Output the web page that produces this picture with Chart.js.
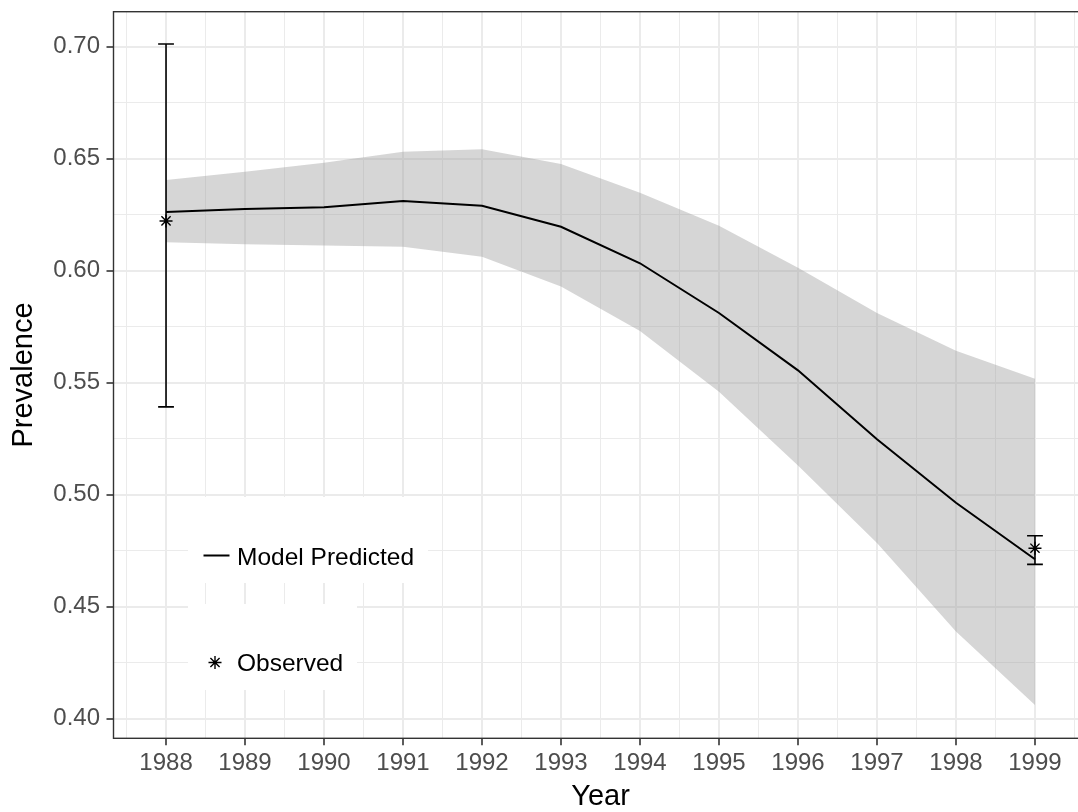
<!DOCTYPE html>
<html>
<head>
<meta charset="utf-8">
<script src="https://cdn.jsdelivr.net/npm/chart.js@4/dist/chart.umd.min.js"></script>
<style>
  html, body { margin: 0; padding: 0; overflow: hidden; background: #fff; width: 1078px; height: 812px; }
  #wrap { position: absolute; left: 0; top: 0; width: 1100px; height: 830px; }
</style>
</head>
<body>
<div id="wrap"><canvas id="c" width="1100" height="830"></canvas></div>
<script>
// Model predicted prevalence with its uncertainty band
const years     = [1988, 1989, 1990, 1991, 1992, 1993, 1994, 1995, 1996, 1997, 1998, 1999];
const predicted = [0.6262, 0.6275, 0.6283, 0.6311, 0.6290, 0.6196, 0.6033, 0.5811, 0.5555, 0.5247, 0.4964, 0.4712];
const upper     = [0.6405, 0.6442, 0.6482, 0.6531, 0.6542, 0.6476, 0.6348, 0.6200, 0.6013, 0.5811, 0.5642, 0.5517];
const lower     = [0.6127, 0.6118, 0.6112, 0.6107, 0.6062, 0.5929, 0.5731, 0.5460, 0.5130, 0.4784, 0.4389, 0.4061];

// Observed survey estimates with confidence intervals
const obsYears = [1988, 1999];
const observed = [0.6222, 0.4761];
const obsLow   = [0.5392, 0.4689];
const obsHigh  = [0.7012, 0.4817];

// Axis ticks
const yTicks = [0.40, 0.45, 0.50, 0.55, 0.60, 0.65, 0.70];
const xTicks = years;

const X_MIN = 1987.335, X_MAX = 1999.665;
const Y_MIN = 0.39125, Y_MAX = 0.7156;

const FONT = "'Liberation Sans', Arial, Helvetica, sans-serif";
Chart.defaults.font.family = FONT;

// major ticks plus the minor (half-step) grid positions inside the panel
const withMinor = (t, lo, hi) => {
  const out = [];
  const step = t[1] - t[0];
  out.push(t[0] - step / 2);
  t.forEach(v => { out.push(v); out.push(v + step / 2); });
  return out.filter(v => v >= lo && v <= hi);
};
const xGrid = withMinor(xTicks, X_MIN, X_MAX);
const yGrid = withMinor(yTicks, Y_MIN, Y_MAX);
const isMajorX = v => xTicks.some(t => Math.abs(t - v) < 1e-6);
const isMajorY = v => yTicks.some(t => Math.abs(t - v) < 1e-6);

const pts = (xs, ys) => xs.map((x, i) => ({ x: x, y: ys[i] }));

const panelPlugin = {
  id: 'panel',
  afterDatasetsDraw(chart) {
    const { ctx, scales: { x, y } } = chart;
    ctx.save();
    // error bars
    ctx.strokeStyle = '#000';
    ctx.lineWidth = 1.6;
    obsYears.forEach((yr, i) => {
      const px = x.getPixelForValue(yr);
      const lo = y.getPixelForValue(obsLow[i]);
      const hi = y.getPixelForValue(obsHigh[i]);
      const hw = x.getPixelForValue(yr + 0.1) - px;
      ctx.beginPath();
      ctx.moveTo(px, hi); ctx.lineTo(px, lo);
      ctx.moveTo(px - hw, hi); ctx.lineTo(px + hw, hi);
      ctx.moveTo(px - hw, lo); ctx.lineTo(px + hw, lo);
      ctx.stroke();
    });

    // legend keys on white backgrounds
    ctx.fillStyle = '#fff';
    ctx.fillRect(188, 497, 240, 86);
    ctx.fillRect(188, 604, 169, 86);

    ctx.strokeStyle = '#000';
    ctx.lineWidth = 2;
    ctx.beginPath();
    ctx.moveTo(203.5, 555.5); ctx.lineTo(229.5, 555.5);
    ctx.stroke();

    // asterisk key (plus and cross overlaid)
    const cx = 215, cy = 662.5, r = 6.5;
    ctx.lineWidth = 1.4;
    ctx.beginPath();
    ctx.moveTo(cx, cy - r); ctx.lineTo(cx, cy + r);
    ctx.moveTo(cx - r, cy); ctx.lineTo(cx + r, cy);
    const d = r * Math.SQRT1_2;
    ctx.moveTo(cx - d, cy - d); ctx.lineTo(cx + d, cy + d);
    ctx.moveTo(cx - d, cy + d); ctx.lineTo(cx + d, cy - d);
    ctx.stroke();

    ctx.fillStyle = '#000';
    ctx.font = '24.5px ' + FONT;
    ctx.textAlign = 'left';
    ctx.textBaseline = 'alphabetic';
    ctx.fillText('Model Predicted', 237, 564.5);
    ctx.fillText('Observed', 237, 671);
    ctx.restore();
  },
  afterDraw(chart) {
    const { ctx, chartArea: a } = chart;
    ctx.save();
    ctx.strokeStyle = '#333';
    ctx.lineWidth = 1.4;
    ctx.strokeRect(a.left, a.top, a.right - a.left, a.bottom - a.top);
    ctx.restore();
  }
};

new Chart(document.getElementById('c'), {
  type: 'line',
  data: {
    datasets: [
      {
        label: 'upper',
        data: pts(years, upper),
        borderWidth: 0,
        borderColor: 'rgba(0,0,0,0)',
        backgroundColor: 'rgba(153,153,153,0.4)',
        pointRadius: 0,
        fill: '+1',
        order: 3
      },
      {
        label: 'lower',
        data: pts(years, lower),
        borderWidth: 0,
        borderColor: 'rgba(0,0,0,0)',
        pointRadius: 0,
        fill: false,
        order: 3
      },
      {
        label: 'Model Predicted',
        data: pts(years, predicted),
        borderColor: '#000',
        borderWidth: 2,
        pointRadius: 0,
        fill: false,
        tension: 0,
        order: 2
      },
      {
        label: 'Observed',
        data: pts(obsYears, observed),
        showLine: false,
        pointStyle: 'star',
        pointRadius: 6.5,
        pointBorderColor: '#000',
        pointBorderWidth: 1.4,
        pointBackgroundColor: '#000',
        order: 1
      }
    ]
  },
  options: {
    responsive: false,
    animation: false,
    devicePixelRatio: 1,
    layout: { padding: { top: 11.7, right: 12.5, bottom: 0, left: 0 } },
    plugins: { legend: { display: false }, tooltip: { enabled: false } },
    scales: {
      x: {
        type: 'linear',
        min: X_MIN,
        max: X_MAX,
        afterBuildTicks: s => { s.ticks = xGrid.map(v => ({ value: v })); },
        afterFit: s => { s.height = 91.7; s.paddingLeft = 0; s.paddingRight = 0; },
        border: { display: false },
        grid: {
          color: '#ebebeb',
          lineWidth: c => isMajorX(c.tick.value) ? 2 : 1,
          tickColor: c => isMajorX(c.tick.value) ? '#333' : 'rgba(0,0,0,0)',
          tickWidth: 1.6,
          tickLength: 7
        },
        ticks: {
          autoSkip: false,
          maxRotation: 0,
          minRotation: 0,
          padding: 3.7,
          color: '#4d4d4d',
          font: { size: 24, family: FONT },
          callback: v => isMajorX(v) ? String(Math.round(v)) : ''
        },
        title: {
          display: true,
          text: 'Year',
          color: '#000',
          font: { size: 29, family: FONT, lineHeight: 1.2 },
          padding: { top: 0, bottom: 15.9 }
        }
      },
      y: {
        type: 'linear',
        min: Y_MIN,
        max: Y_MAX,
        afterBuildTicks: s => { s.ticks = yGrid.map(v => ({ value: v })); },
        afterFit: s => { s.width = 113.5; s.paddingTop = 0; s.paddingBottom = 0; },
        border: { display: false },
        grid: {
          color: '#ebebeb',
          lineWidth: c => isMajorY(c.tick.value) ? 2 : 1,
          tickColor: c => isMajorY(c.tick.value) ? '#333' : 'rgba(0,0,0,0)',
          tickWidth: 1.6,
          tickLength: 7
        },
        ticks: {
          autoSkip: false,
          padding: 6.5,
          color: '#4d4d4d',
          font: { size: 24, family: FONT },
          callback: v => isMajorY(v) ? v.toFixed(2) : ''
        },
        title: {
          display: true,
          text: 'Prevalence',
          color: '#000',
          font: { size: 29, family: FONT, lineHeight: 1.2 },
          padding: { top: 7, bottom: 0 }
        }
      }
    }
  },
  plugins: [panelPlugin]
});
</script>
</body>
</html>
